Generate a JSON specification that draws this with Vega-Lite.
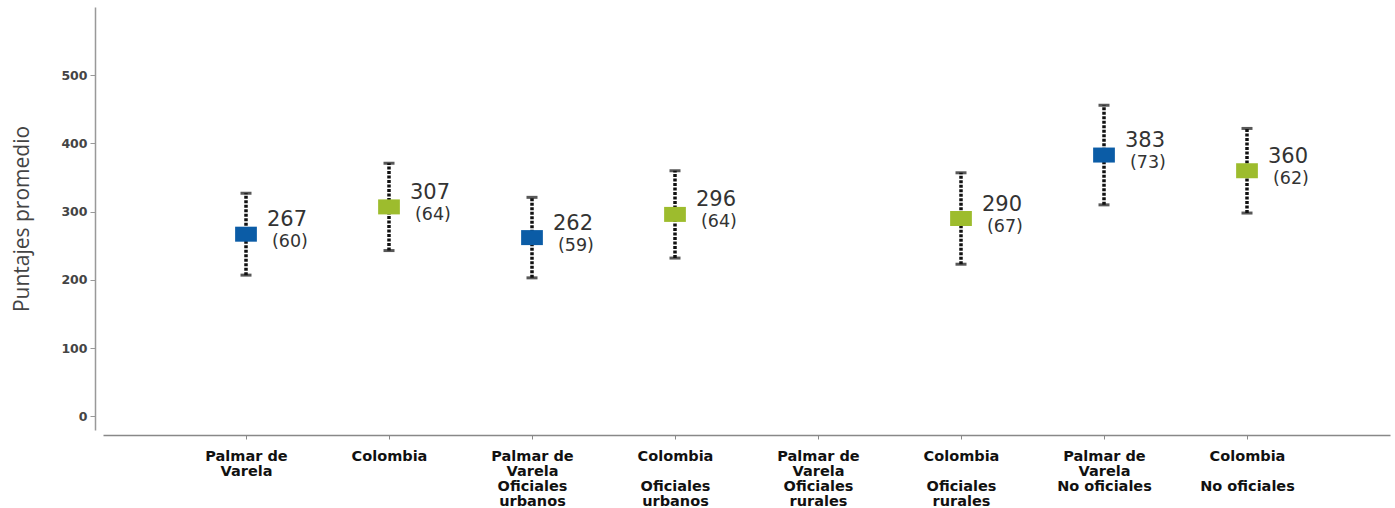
{
  "$schema": "https://vega.github.io/schema/vega-lite/v6.json",
  "width": 1287,
  "height": 423,
  "autosize": {"type": "none"},
  "padding": {"left": 103, "top": 7, "right": 5, "bottom": 78},
  "background": "white",
  "config": {
    "view": {"stroke": null}
  },
  "data": {
    "values": [
      {"grupo": "Palmar de|Varela", "tipo": "Palmar de Varela", "mean": 267, "sd": 60},
      {"grupo": "Colombia", "tipo": "Colombia", "mean": 307, "sd": 64},
      {"grupo": "Palmar de|Varela|Oficiales|urbanos", "tipo": "Palmar de Varela", "mean": 262, "sd": 59},
      {"grupo": "Colombia|\u2800|Oficiales|urbanos", "tipo": "Colombia", "mean": 296, "sd": 64},
      {"grupo": "Colombia|\u2800|Oficiales|rurales", "tipo": "Colombia", "mean": 290, "sd": 67},
      {"grupo": "Palmar de|Varela|No oficiales", "tipo": "Palmar de Varela", "mean": 383, "sd": 73},
      {"grupo": "Colombia|\u2800|No oficiales", "tipo": "Colombia", "mean": 360, "sd": 62}
    ]
  },
  "transform": [{"calculate": "'(' + datum.sd + ')'", "as": "sdText"}],
  "encoding": {
    "x": {
      "field": "grupo",
      "type": "nominal",
      "sort": null,
      "scale": {
        "type": "point",
        "padding": 1,
        "domain": [
          "Palmar de|Varela",
          "Colombia",
          "Palmar de|Varela|Oficiales|urbanos",
          "Colombia|\u2800|Oficiales|urbanos",
          "Palmar de|Varela|Oficiales|rurales",
          "Colombia|\u2800|Oficiales|rurales",
          "Palmar de|Varela|No oficiales",
          "Colombia|\u2800|No oficiales"
        ]
      },
      "axis": {
        "title": null,
        "labelAngle": 0,
        "offset": 5,
        "domainColor": "#888",
        "domainWidth": 1.5,
        "tickColor": "#888",
        "tickSize": 4,
        "labelFont": "DejaVu Sans",
        "labelFontWeight": "bold",
        "labelFontSize": 14.5,
        "labelColor": "#111",
        "labelLineHeight": 15,
        "labelPadding": 10,
        "labelBaseline": "top",
        "labelLimit": 0,
        "labelExpr": "split(datum.label, '|')"
      }
    }
  },
  "layer": [
    {
      "mark": {
        "type": "errorbar",
        "ticks": {"size": 11, "thickness": 3, "color": "#111"},
        "rule": {"strokeDash": [3, 1.5], "strokeWidth": 3.5, "color": "#111"}
      },
      "encoding": {
        "y": {
          "field": "mean",
          "type": "quantitative",
          "scale": {"domain": [-20, 600], "nice": false, "zero": false},
          "axis": {
            "title": "Puntajes promedio",
            "values": [0, 100, 200, 300, 400, 500],
            "grid": false,
            "offset": 8,
            "domainColor": "#999",
            "domainWidth": 1.5,
            "tickColor": "#999",
            "tickSize": 5,
            "labelFont": "DejaVu Sans",
            "labelFontWeight": "bold",
            "labelFontSize": 12.5,
            "labelColor": "#444",
            "labelPadding": 3,
            "titleFont": "Open Sans",
            "titleFontSize": 21,
            "titleFontWeight": "normal",
            "titleColor": "#444",
            "titlePadding": 28
          }
        },
        "yError": {"field": "sd"}
      }
    },
    {
      "mark": {"type": "point", "shape": "M-1.45,-1H1.45V1H-1.45Z", "size": 225, "filled": true, "opacity": 1},
      "encoding": {
        "y": {"field": "mean", "type": "quantitative"},
        "color": {
          "field": "tipo",
          "type": "nominal",
          "scale": {"domain": ["Palmar de Varela", "Colombia"], "range": ["#0B5CA6", "#9DBC2D"]},
          "legend": null
        }
      }
    },
    {
      "mark": {"type": "text", "align": "left", "baseline": "middle", "dx": 21, "dy": -14, "font": "DejaVu Sans", "fontSize": 21, "color": "#333"},
      "encoding": {
        "y": {"field": "mean", "type": "quantitative"},
        "text": {"field": "mean", "type": "quantitative"}
      }
    },
    {
      "mark": {"type": "text", "align": "left", "baseline": "middle", "dx": 26, "dy": 8, "font": "DejaVu Sans", "fontSize": 17.5, "color": "#333"},
      "encoding": {
        "y": {"field": "mean", "type": "quantitative"},
        "text": {"field": "sdText", "type": "nominal"}
      }
    }
  ]
}
